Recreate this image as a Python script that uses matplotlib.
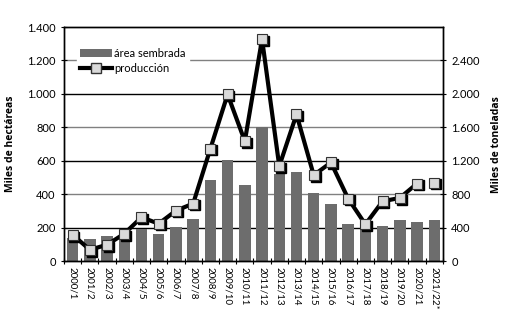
import numpy as np
import matplotlib
matplotlib.use("Agg")
import matplotlib.pyplot as plt
import matplotlib.transforms as mtransforms
from matplotlib.ticker import FuncFormatter, FixedLocator

plt.rcParams['font.family'] = ['Lato', 'DejaVu Sans']

campanas = ["2000/1", "2001/2", "2002/3", "2003/4", "2004/5", "2005/6", "2006/7",
            "2007/8", "2008/9", "2009/10", "2010/11", "2011/12", "2012/13", "2013/14",
            "2014/15", "2015/16", "2016/17", "2017/18", "2018/19", "2019/20",
            "2020/21", "2021/22*"]
# miles de hectareas
area = [140, 134, 148, 152, 190, 164, 202, 252, 484, 604, 454, 800, 524, 534,
        410, 340, 220, 200, 208, 244, 234, 244]
# miles de toneladas
produccion = [316, 136, 196, 328, 524, 448, 604, 688, 1345, 1995, 1434, 2656, 1136, 1755,
              1028, 1180, 748, 440, 716, 756, 928, 940]


def miles(v, pos):
    return "{:,.0f}".format(v).replace(",", ".")


fig = plt.figure(figsize=(5.12, 3.22), dpi=100)
ax = fig.add_axes([0.125, 0.189, 0.74, 0.727])
ax2 = ax.twinx()

x = np.arange(len(campanas))
bars = ax.bar(x, area, width=0.66, color="#6d6d6d", zorder=2, label="área sembrada")

ax.set_ylim(0, 1400)
ax.set_xlim(-0.5, len(campanas) - 0.5)
ax.set_yticks(range(0, 1401, 200))
ax.yaxis.set_major_formatter(FuncFormatter(miles))
for i, yv in enumerate(range(200, 1400, 200)):
    col = "black" if i % 2 == 0 else "#808080"
    ax.axhline(yv, color=col, lw=1.0, zorder=1)

ax.set_xticks(x)
ax.set_xticklabels(campanas, rotation=270, fontsize=7)
ax.xaxis.set_minor_locator(FixedLocator(np.arange(-0.5, len(campanas), 1.0)))
ax.tick_params(axis="x", which="major", length=0, pad=4)
ax.tick_params(axis="x", which="minor", length=5, direction="inout", width=0.8)
ax.tick_params(axis="y", length=5, direction="inout", width=0.8, labelsize=8, colors="black")

ax2.set_ylim(0, 2800)
ax2.set_yticks(range(0, 2401, 400))
ax2.yaxis.set_major_formatter(FuncFormatter(miles))
ax2.tick_params(axis="y", length=5, direction="inout", width=0.8, labelsize=8)

for a in (ax, ax2):
    for s in a.spines.values():
        s.set_linewidth(1.0)
        s.set_color("black")

# linea de produccion (la ultima campana es estimada)
ax2.plot(x[:-1], produccion[:-1], color="black", lw=3.0, zorder=3)
ax2.plot(x[-2:], produccion[-2:], color="black", lw=2.5, linestyle=(0, (1, 4)), zorder=3)
sombra = mtransforms.offset_copy(ax2.transData, fig=fig, x=1.8, y=-1.8, units="dots")
ax2.plot(x, produccion, linestyle="none", marker="s", ms=6.5, color="black",
         transform=sombra, zorder=4)
ax2.plot(x, produccion, linestyle="none", marker="s", ms=6.5, mfc="#d9d9d9",
         mec="#333333", mew=0.8, zorder=5)

ax.set_ylabel("Miles de hectáreas", fontsize=7.5, fontweight="bold",
              family=["Open Sans", "DejaVu Sans"], labelpad=8)
ax2.set_ylabel("Miles de toneladas", fontsize=7.5, fontweight="bold",
               family=["Open Sans", "DejaVu Sans"], labelpad=8)

lin, = ax.plot([], [], color="black", lw=3.0, marker="s", ms=6.5, mfc="#d9d9d9",
               mec="#333333", label="producción")
leg = ax.legend(handles=[bars, lin], loc="upper left", bbox_to_anchor=(0.02, 0.95),
                fontsize=8, frameon=True, fancybox=False, edgecolor="white",
                framealpha=1.0, handlelength=2.8, handletextpad=0.2,
                borderpad=0.3, labelspacing=0.4)
leg.set_zorder(10)

fig.savefig("out.png", dpi=100)
